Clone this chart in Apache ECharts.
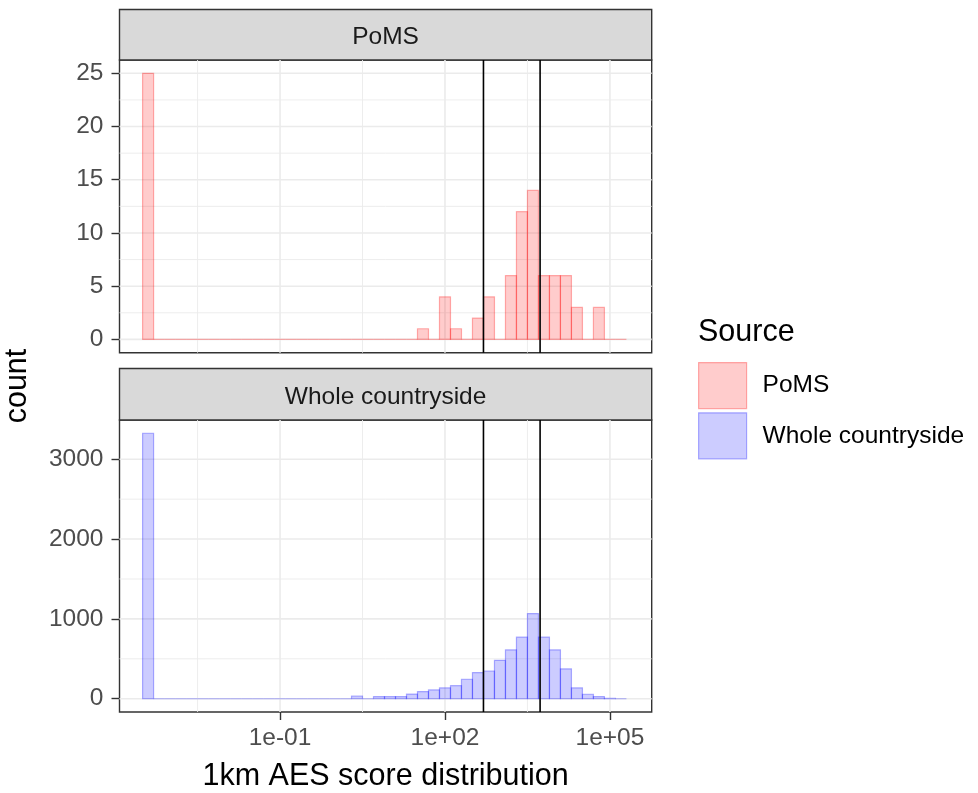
<!DOCTYPE html>
<html>
<head>
<meta charset="utf-8">
<script src="https://cdn.jsdelivr.net/npm/echarts@6/dist/echarts.min.js"></script>
<style>
html,body{margin:0;padding:0;background:#fff;}
#chart{width:978px;height:793px;}
</style>
</head>
<body>
<div id="chart"></div>
<script>
// ---- data (x in log10 units) ----
var binStartLog = -3.5;
var binWidthLog = 0.2;
var pomsCounts = [25,0,0,0,0,0,0,0,0,0,0,0,0,0,0,0,0,0,0,0,0,0,0,0,0,
  1,0,4,1,0,2,4,0,6,12,14,6,6,6,3,0,3,0,0];
var countrysideCounts = [3325,0,0,0,0,0,0,0,0,0,0,0,0,0,0,0,0,0,0,
  34,0,27,27,27,58,90,110,136,163,244,328,347,481,612,771,1066,771,612,374,136,56,27,5,0];
var vlineLog = [2.70, 3.73];
var seriesNames = ['PoMS', 'Whole countryside'];
var xMajorTicks = [-1, 2, 5];
var xMinorTicks = [-2.5, 0.5, 3.5];
var pomsYMajor = [0, 5, 10, 15, 20, 25];
var pomsYMinor = [2.5, 7.5, 12.5, 17.5, 22.5];
var wcYMajor = [0, 1000, 2000, 3000];
var wcYMinor = [500, 1500, 2500];
var xTitle = '1km AES score distribution';
var yTitle = 'count';
var legendTitle = 'Source';

// ---- helpers ----
var FONT = "'Liberation Sans', Arial, sans-serif";
function histData(counts) {
  return counts.map(function (c, i) {
    return [binStartLog + i * binWidthLog, binStartLog + (i + 1) * binWidthLog, c];
  });
}
function fmtExp(v) {
  var r = Math.round(v);
  var a = Math.abs(r);
  return '1e' + (r < 0 ? '-' : '+') + (a < 10 ? '0' + a : '' + a);
}
function fmtPlain(v) { return String(Math.round(v)); }
var fills = ['rgba(255,0,0,0.2)', 'rgba(0,0,255,0.2)'];
var strokes = ['rgba(255,0,0,0.3)', 'rgba(0,0,255,0.3)'];

function histSeries(idx, counts) {
  return {
    type: 'custom', name: seriesNames[idx],
    xAxisIndex: idx, yAxisIndex: idx, z: 3,
    itemStyle: { color: fills[idx], borderColor: strokes[idx] },
    encode: { x: [0, 1], y: 2 },
    data: histData(counts),
    renderItem: function (params, api) {
      var p0 = api.coord([api.value(0), api.value(2)]);
      var p1 = api.coord([api.value(1), 0]);
      return {
        type: 'rect',
        shape: { x: p0[0], y: p0[1], width: p1[0] - p0[0], height: p1[1] - p0[1] },
        style: { fill: fills[idx], stroke: strokes[idx], lineWidth: 1.2 }
      };
    }
  };
}
function gridLineSeries(idx, xMaj, xMin, yMaj, yMin) {
  var data = [];
  xMaj.forEach(function (v) { data.push([v, 0, 0, 1]); });
  xMin.forEach(function (v) { data.push([v, 0, 0, 0]); });
  yMaj.forEach(function (v) { data.push([0, v, 1, 1]); });
  yMin.forEach(function (v) { data.push([0, v, 1, 0]); });
  return {
    type: 'custom', xAxisIndex: idx, yAxisIndex: idx, z: 1, silent: true,
    encode: { x: 0, y: 1 },
    data: data,
    renderItem: function (params, api) {
      var cs = params.coordSys;
      var horiz = api.value(2) === 1;
      var major = api.value(3) === 1;
      var shape;
      if (horiz) {
        var y = api.coord([0, api.value(1)])[1];
        shape = { x1: cs.x, y1: y, x2: cs.x + cs.width, y2: y };
      } else {
        var x = api.coord([api.value(0), 0])[0];
        shape = { x1: x, y1: cs.y, x2: x, y2: cs.y + cs.height };
      }
      return { type: 'line', shape: shape,
        style: { stroke: '#EBEBEB', lineWidth: major ? 1.6 : 0.9 } };
    }
  };
}
function vlineSeries(idx) {
  return {
    type: 'custom', xAxisIndex: idx, yAxisIndex: idx, z: 4, silent: true,
    encode: { x: 0, y: 1 },
    data: vlineLog.map(function (v) { return [v, 0]; }),
    renderItem: function (params, api) {
      var cs = params.coordSys;
      var x = api.coord([api.value(0), 0])[0];
      return { type: 'line', shape: { x1: x, y1: cs.y, x2: x, y2: cs.y + cs.height },
        style: { stroke: '#000', lineWidth: 1.6 } };
    }
  };
}

var P = { left: 119.5, width: 532.2 };
var topGrid = { top: 60, height: 292.7 };
var botGrid = { top: 420, height: 292.3 };
var xMinV = -3.92, xMaxV = 5.76;

function xAxisDef(idx, showLabels) {
  var ax = {
    type: 'value', gridIndex: idx, min: xMinV, max: xMaxV, position: 'bottom',
    axisLine: { show: false, onZero: false },
    splitLine: { show: false },
    axisTick: { show: showLabels, customValues: xMajorTicks, length: 8, lineStyle: { color: '#333333', width: 1.4 } },
    axisLabel: { show: showLabels, customValues: xMajorTicks, formatter: fmtExp,
      fontFamily: FONT, fontSize: 24.5, color: '#4D4D4D', margin: 14 }
  };
  if (showLabels) {
    ax.name = xTitle; ax.nameLocation = 'middle'; ax.nameGap = 49;
    ax.nameTextStyle = { fontFamily: FONT, fontSize: 30.5, color: '#000' };
  }
  return ax;
}
function yAxisDef(idx, maxVal, ticks) {
  return {
    type: 'value', gridIndex: idx, min: -0.05 * maxVal, max: 1.05 * maxVal, position: 'left',
    axisLine: { show: false, onZero: false },
    splitLine: { show: false },
    axisTick: { show: true, customValues: ticks, length: 8, lineStyle: { color: '#333333', width: 1.4 } },
    axisLabel: { customValues: ticks, formatter: fmtPlain, fontFamily: FONT, fontSize: 24.5, color: '#4D4D4D', margin: 16 }
  };
}

function strip(y, h, label) {
  return {
    type: 'group', children: [
      { type: 'rect', shape: { x: P.left, y: y, width: P.width, height: h },
        style: { fill: '#D9D9D9', stroke: '#333333', lineWidth: 1.4 } },
      { type: 'text', x: P.left + P.width / 2, y: y + h / 2 + 2.5,
        style: { text: label, fontFamily: FONT, fontSize: 24.5, fill: '#1A1A1A',
          align: 'center', verticalAlign: 'middle' } }
    ]
  };
}

var option = {
  backgroundColor: '#ffffff',
  animation: false,
  grid: [
    { left: P.left, top: topGrid.top, width: P.width, height: topGrid.height,
      show: true, borderColor: '#333333', borderWidth: 1.4, backgroundColor: '#fff' },
    { left: P.left, top: botGrid.top, width: P.width, height: botGrid.height,
      show: true, borderColor: '#333333', borderWidth: 1.4, backgroundColor: '#fff' }
  ],
  xAxis: [xAxisDef(0, false), xAxisDef(1, true)],
  yAxis: [yAxisDef(0, 25, pomsYMajor), yAxisDef(1, 3325, wcYMajor)],
  legend: {
    orient: 'vertical', left: 698, top: 362, padding: 0,
    itemWidth: 48, itemHeight: 46, itemGap: 3, icon: 'rect',
    textStyle: { fontFamily: FONT, fontSize: 24.5, color: '#000', padding: [4, 0, 0, 11] },
    data: [
      { name: seriesNames[0], itemStyle: { color: fills[0], borderColor: strokes[0], borderWidth: 1.2 } },
      { name: seriesNames[1], itemStyle: { color: fills[1], borderColor: strokes[1], borderWidth: 1.2 } }
    ],
    selectedMode: false
  },
  graphic: [
    strip(9.5, 50.5, seriesNames[0]),
    strip(368.5, 51.5, seriesNames[1]),
    { type: 'text', x: 18, y: 386, rotation: Math.PI / 2,
      style: { text: yTitle, fontFamily: FONT, fontSize: 30.5, fill: '#000', align: 'center', verticalAlign: 'middle' } },
    { type: 'text', x: 698, y: 333,
      style: { text: legendTitle, fontFamily: FONT, fontSize: 30.5, fill: '#000', align: 'left', verticalAlign: 'middle' } }
  ],
  series: [
    gridLineSeries(0, xMajorTicks, xMinorTicks, pomsYMajor, pomsYMinor),
    gridLineSeries(1, xMajorTicks, xMinorTicks, wcYMajor, wcYMinor),
    histSeries(0, pomsCounts),
    histSeries(1, countrysideCounts),
    vlineSeries(0),
    vlineSeries(1)
  ]
};
var chart = echarts.init(document.getElementById('chart'), null, { renderer: 'canvas' });
chart.setOption(option);
</script>
</body>
</html>
